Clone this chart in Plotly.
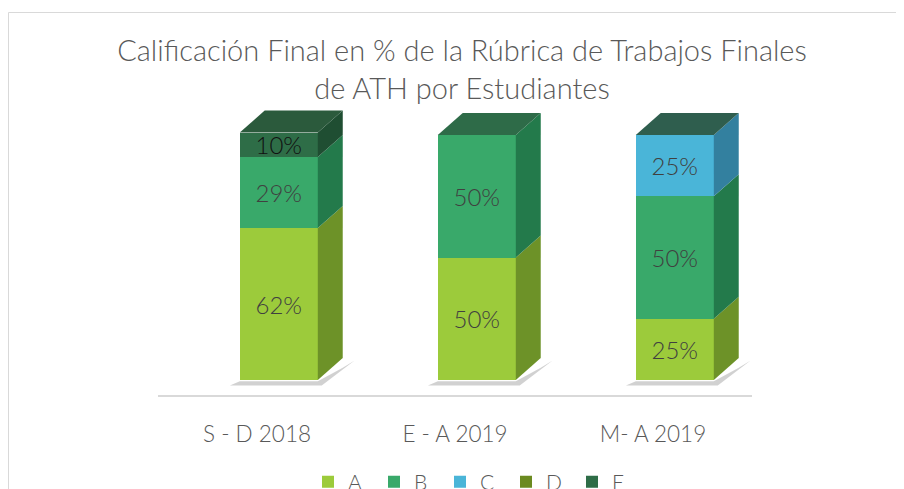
import plotly.graph_objects as go

categories = ["S - D 2018", "E - A 2019", "M- A 2019"]
series_names = ["A", "B", "C", "D", "E"]
values_A = [62, 50, 25]
values_B = [29, 50, 50]
values_C = [0, 0, 25]
values_D = [0, 0, 0]
values_E = [10, 0, 0]
series_values = [values_A, values_B, values_C, values_D, values_E]

front_colors = ["#9ccb3b", "#39a96a", "#4ab5d8", "#6b8a20", "#2e6d47"]
side_colors = ["#6d9228", "#237a4b", "#33809f", "#4d6418", "#1f4e32"]
top_colors = ["#86b334", "#2e6b48", "#2f5e4e", "#556e1c", "#2b5a3c"]
label_colors = ["#404040", "#404040", "#404040", "#404040", "#111111"]

FONT = "Lato"
GRAY = "#595959"

# geometry (axis units)
offset = 0.11      # shift of bar front face from category tick
bw = 0.394         # bar width
dx = 0.126         # depth x
dy = 9.0           # depth y

fig = go.Figure()
xs = [i + offset for i in range(len(categories))]

for name, vals, col, lc in zip(series_names, series_values, front_colors, label_colors):
    fig.add_trace(go.Bar(
        name=name, x=xs, y=vals, width=bw,
        marker=dict(color=col, line=dict(width=0)),
        text=[f"{v}%" if v > 0 else "" for v in vals],
        textposition="inside", insidetextanchor="middle",
        constraintext="none",
        textfont=dict(family=FONT, size=24, color=lc, weight=300),
        hoverinfo="skip",
    ))

shapes = []
# soft shadows
for i, x in enumerate(xs):
    xl = x - bw / 2
    xr = x + bw / 2
    shapes.append(dict(type="path", xref="x", yref="y", layer="below",
                       path=f"M {xl-0.05},-2.2 L {xr+0.02},-2.2 L {xr+dx+0.06},{dy-1} L {xr+dx},{dy-4} L {xr},-0.5 L {xl},-0.5 Z",
                       fillcolor="rgba(0,0,0,0.18)", line=dict(width=0)))

# side and top faces
for i, x in enumerate(xs):
    xl = x - bw / 2
    xr = x + bw / 2
    base = 0
    top_idx = None
    for s, vals in enumerate(series_values):
        v = vals[i]
        if v <= 0:
            continue
        b, t = base, base + v
        shapes.append(dict(type="path", xref="x", yref="y", layer="above",
                           path=f"M {xr},{b} L {xr+dx},{b+dy} L {xr+dx},{t+dy} L {xr},{t} Z",
                           fillcolor=side_colors[s], line=dict(width=0)))
        base = t
        top_idx = s
    shapes.append(dict(type="path", xref="x", yref="y", layer="above",
                       path=f"M {xl},{base} L {xl+dx},{base+dy} L {xr+dx},{base+dy} L {xr},{base} Z",
                       fillcolor=top_colors[top_idx], line=dict(width=0)))

# page is rendered with an 8px body offset -> work in figure pixels = screen - 8
OFF = 8
W, H = 904, 489
L = 158 - OFF
R = W - (752 - OFF)
T = 100 - OFF
B = H - (395 - OFF)
pw, ph = W - L - R, H - T - B
def px2x(px): return (px - OFF - L) / pw
def py2y(py): return (H - B - (py - OFF)) / ph

shapes.append(dict(type="rect", xref="paper", yref="paper",
                   x0=px2x(8.5), x1=px2x(960), y0=py2y(560), y1=py2y(12.5),
                   line=dict(color="#d9d9d9", width=1), fillcolor="rgba(0,0,0,0)", layer="below"))

ypx_per_unit = 245 / 100
fig.update_layout(
    width=W, height=H,
    margin=dict(l=L, r=R, t=T, b=B, autoexpand=False),
    paper_bgcolor="white", plot_bgcolor="white",
    barmode="stack",
    title=dict(text="Calificación Final en % de la Rúbrica de Trabajos Finales<br>de ATH por Estudiantes",
               x=px2x(462), xanchor="center", xref="paper",
               y=1 - (61 - OFF) / H, yanchor="middle",
               font=dict(family=FONT, size=29, color=GRAY, weight=300)),
    xaxis=dict(range=[-0.5, 2.5], tickvals=list(range(len(categories))), ticktext=categories,
               showline=True, linecolor="#d9d9d9", linewidth=2, showgrid=False, zeroline=False,
               ticks="", ticklabelstandoff=18,
               tickfont=dict(family=FONT, size=22.5, color=GRAY, weight=300)),
    yaxis=dict(range=[-15 / ypx_per_unit, (395 - 100) / ypx_per_unit - 15 / ypx_per_unit],
               visible=False, showgrid=False, zeroline=False),
    legend=dict(orientation="h", x=px2x(473), xanchor="center",
                yref="container", y=1 - (482 - OFF) / H, yanchor="middle",
                font=dict(family=FONT, size=21, color=GRAY, weight=300), traceorder="normal",
                entrywidth=21, entrywidthmode="pixels"),
    uniformtext=dict(minsize=24, mode="show"),
    shapes=shapes,
    showlegend=True,
)

fig.write_html("out.html")
